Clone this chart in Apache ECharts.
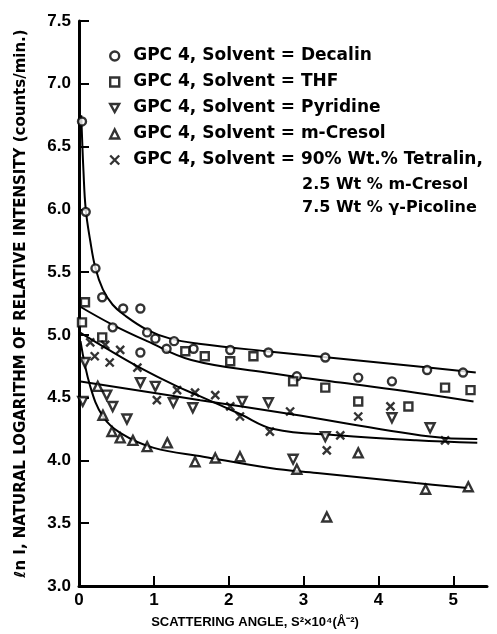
<!DOCTYPE html>
<html>
<head>
<meta charset="utf-8">
<script src="https://cdn.jsdelivr.net/npm/echarts@6/dist/echarts.min.js"></script>
<style>
  html, body { margin: 0; padding: 0; background: #fff; }
  #main { width: 497px; height: 634px; }
</style>
</head>
<body>
<div id="main"></div>
<script>
'use strict';

var chart = echarts.init(document.getElementById('main'));

// legend names
var seriesNames = [
    'GPC 4, Solvent = Decalin',
    'GPC 4, Solvent = THF',
    'GPC 4, Solvent = Pyridine',
    'GPC 4, Solvent = m-Cresol',
    'GPC 4, Solvent = 90% Wt.% Tetralin,'
];
var extraLegendLines = ['2.5 Wt % m-Cresol', '7.5 Wt % \u03B3-Picoline'];

var xTicks = [0, 1, 2, 3, 4, 5];

// measured points [S^2 x 10^4, ln I]
var decalinPts = [
    [0.04, 6.70], [0.09, 5.98], [0.22, 5.53], [0.31, 5.30], [0.59, 5.21], [0.82, 5.21],
    [0.45, 5.06], [0.91, 5.02], [1.02, 4.97], [1.27, 4.95], [1.17, 4.89], [0.82, 4.86],
    [1.53, 4.89], [2.02, 4.88], [2.53, 4.86], [3.29, 4.82], [2.91, 4.67], [3.73, 4.66],
    [4.18, 4.63], [4.65, 4.72], [5.13, 4.70]
];
var thfPts = [
    [0.08, 5.26], [0.04, 5.10], [0.31, 4.98], [1.42, 4.87], [1.68, 4.83], [2.02, 4.79],
    [2.33, 4.83], [2.86, 4.63], [3.29, 4.58], [3.73, 4.47], [4.40, 4.43], [4.89, 4.58],
    [5.23, 4.56]
];
var pyridinePts = [
    [0.05, 4.47], [0.08, 4.78], [0.37, 4.52], [0.45, 4.43], [0.64, 4.33], [0.82, 4.62],
    [1.02, 4.59], [1.26, 4.46], [1.52, 4.42], [2.18, 4.47], [2.53, 4.46], [2.86, 4.01],
    [3.29, 4.19], [4.18, 4.34], [4.69, 4.26]
];
var cresolPts = [
    [0.25, 4.59], [0.32, 4.36], [0.44, 4.23], [0.55, 4.18], [0.72, 4.16], [0.91, 4.11],
    [1.18, 4.14], [1.55, 3.99], [1.82, 4.02], [2.15, 4.03], [2.91, 3.93], [3.31, 3.55],
    [3.73, 4.06], [4.63, 3.77], [5.20, 3.79]
];
var mixPts = [
    [0.15, 4.94], [0.35, 4.92], [0.21, 4.83], [0.55, 4.88], [0.41, 4.78], [0.78, 4.74],
    [1.04, 4.48], [1.31, 4.56], [1.55, 4.54], [1.82, 4.52], [2.02, 4.43], [2.15, 4.35],
    [2.55, 4.23], [2.82, 4.39], [3.31, 4.08], [3.49, 4.20], [3.73, 4.35], [4.16, 4.43],
    [4.89, 4.16]
];

// drawn curves through the data
var decalinCurve = [
    [0.03, 6.75], [0.06, 6.30], [0.09, 6.00], [0.15, 5.75], [0.22, 5.53], [0.32, 5.36],
    [0.45, 5.24], [0.60, 5.16], [0.91, 5.04], [1.22, 4.97], [1.60, 4.93], [2.50, 4.87],
    [3.50, 4.81], [4.50, 4.75], [5.30, 4.70]
];
var thfCurve = [
    [0.00, 5.23], [0.45, 5.08], [0.91, 4.95], [1.50, 4.80], [2.50, 4.70], [3.49, 4.62],
    [4.50, 4.54], [5.27, 4.47]
];
var pyridineCurve = [
    [0.00, 4.63], [1.62, 4.48], [2.82, 4.37], [4.69, 4.19], [5.32, 4.17]
];
var cresolCurve = [
    [0.02, 4.95], [0.15, 4.59], [0.32, 4.35], [0.55, 4.22], [1.00, 4.10], [1.66, 4.03],
    [2.55, 3.94], [3.18, 3.90], [4.50, 3.82], [5.19, 3.78]
];
var mixCurve = [
    [0.01, 5.02], [0.40, 4.88], [0.78, 4.75], [1.31, 4.59], [1.62, 4.51], [2.15, 4.37],
    [2.60, 4.25], [3.45, 4.20], [4.50, 4.16], [5.32, 4.14]
];

var FONT = 'Liberation Sans';
var WIDE = 'DejaVu Sans';
var symStyle = { color: '#fff', borderColor: '#000', borderWidth: 2.4 };

function pts(name, data, symbol, size) {
    return {
        name: name,
        type: 'scatter',
        data: data,
        symbol: symbol,
        symbolSize: size,
        itemStyle: symStyle,
        z: 3
    };
}

function curve(data) {
    return {
        type: 'line',
        data: data,
        smooth: 0.4,
        showSymbol: false,
        silent: true,
        lineStyle: { color: '#000', width: 2 },
        z: 2
    };
}

var option = {
    animation: false,
    backgroundColor: '#fff',
    grid: { left: 79, right: 10, top: 21, bottom: 48 },
    legend: {
        orient: 'vertical',
        left: 104,
        top: 41,
        itemGap: 6,
        itemWidth: 9,
        itemHeight: 9,
        data: seriesNames,
        itemStyle: symStyle,
        textStyle: {
            fontFamily: WIDE, fontWeight: 'bold', fontSize: 17, color: '#000',
            lineHeight: 20, padding: [0, 0, 0, 9]
        }
    },
    graphic: [{
        type: 'text',
        left: 302,
        top: 173,
        style: {
            text: extraLegendLines.join('\n'),
            font: 'bold 16px "DejaVu Sans"',
            lineHeight: 23,
            fill: '#000'
        }
    }],
    xAxis: {
        type: 'value',
        min: 0,
        max: 5.45,
        interval: 1,
        name: 'SCATTERING ANGLE, S\u00B2\u00D710\u2074(\u00C5\u207B\u00B2)',
        nameLocation: 'middle',
        nameGap: 30,
        nameTextStyle: { fontFamily: FONT, fontWeight: 'bold', fontSize: 13, color: '#000', padding: [0, 56, 0, 0] },
        splitLine: { show: false },
        axisLine: { lineStyle: { color: '#000', width: 3 } },
        axisTick: { inside: true, length: 10, lineStyle: { color: '#000', width: 2 }, customValues: xTicks },
        axisLabel: { customValues: xTicks, margin: 6, fontFamily: FONT, fontWeight: 'bold', fontSize: 17, color: '#000' }
    },
    yAxis: {
        type: 'value',
        min: 3,
        max: 7.5,
        interval: 0.5,
        name: '\u2113n I, NATURAL LOGARITHM OF RELATIVE INTENSITY (counts/min.)',
        nameLocation: 'middle',
        nameRotate: 90,
        nameGap: 50,
        nameTextStyle: { fontFamily: WIDE, fontWeight: 'bold', fontSize: 15, color: '#000' },
        splitLine: { show: false },
        axisLine: { show: true, lineStyle: { color: '#000', width: 3 } },
        axisTick: { show: true, inside: true, length: 10, lineStyle: { color: '#000', width: 2 } },
        axisLabel: {
            margin: 8, fontFamily: FONT, fontWeight: 'bold', fontSize: 17, color: '#000',
            formatter: function (v) { return v.toFixed(1); }
        }
    },
    series: [
        curve(decalinCurve),
        curve(thfCurve),
        curve(pyridineCurve),
        curve(cresolCurve),
        curve(mixCurve),
        pts(seriesNames[0], decalinPts, 'circle', 8),
        pts(seriesNames[1], thfPts, 'rect', 8),
        pts(seriesNames[2], pyridinePts, 'path://M0,0L10,0L5,9Z', 9),
        pts(seriesNames[3], cresolPts, 'triangle', 9),
        pts(seriesNames[4], mixPts, 'path://M0,0L10,10M10,0L0,10', 8)
    ]
};

chart.setOption(option);
</script>
</body>
</html>
